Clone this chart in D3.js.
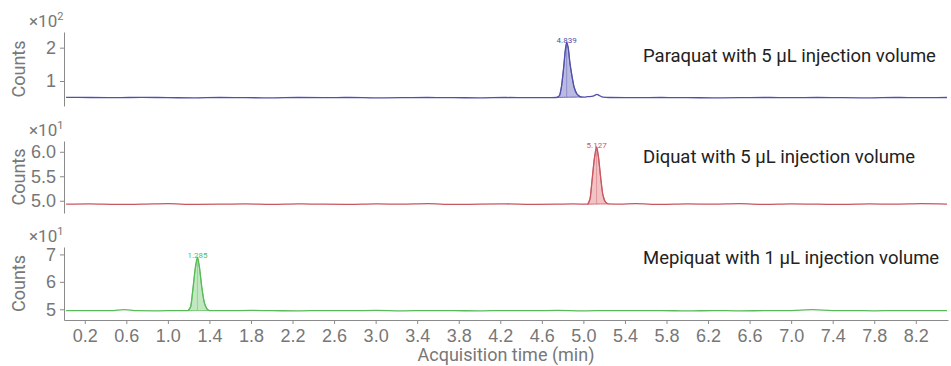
<!DOCTYPE html>
<html>
<head>
<meta charset="utf-8">
<script src="https://cdn.jsdelivr.net/npm/d3@7"></script>
<style>
  body { margin: 0; background: #fff; }
  svg { font-family: Roboto, "Noto Sans", sans-serif; }
  .axis path, .axis line { stroke: #8a8a8a; }
  .axis text { fill: #777; }
</style>
</head>
<body>
<div id="chart"></div>
<script>
// x axis tick labels (min)
var xTicks = [0.2, 0.6, 1.0, 1.4, 1.8, 2.2, 2.6, 3.0, 3.4, 3.8, 4.2, 4.6, 5.0, 5.4, 5.8, 6.2, 6.6, 7.0, 7.4, 7.8, 8.2];

// Paraquat trace, [time, counts x10^2]
var paraquat = [
  [0.02,0.51],[0.25,0.505],[0.5,0.50],[0.75,0.51],[1.0,0.50],[1.25,0.495],[1.5,0.505],[1.75,0.50],
  [2.0,0.495],[2.25,0.505],[2.5,0.50],[2.75,0.505],[3.0,0.495],[3.25,0.50],[3.5,0.505],[3.75,0.50],
  [4.0,0.495],[4.25,0.505],[4.5,0.50],[4.65,0.50],[4.74,0.505],[4.77,0.56],[4.79,0.85],[4.81,1.40],
  [4.825,1.90],[4.839,2.16],[4.855,1.98],[4.87,1.55],[4.89,1.15],[4.91,0.82],[4.94,0.60],[4.98,0.52],
  [5.01,0.515],[5.04,0.53],[5.08,0.54],[5.11,0.57],[5.13,0.60],[5.15,0.57],[5.19,0.515],[5.25,0.505],
  [5.5,0.50],[5.75,0.505],[6.0,0.50],[6.25,0.495],[6.5,0.50],[6.75,0.505],[7.0,0.50],[7.25,0.505],
  [7.5,0.50],[7.75,0.495],[8.0,0.505],[8.25,0.50],[8.5,0.505]
];
// Diquat trace, [time, counts x10^1]
var diquat = [
  [0.02,4.93],[0.25,4.935],[0.5,4.925],[0.75,4.93],[1.0,4.94],[1.25,4.925],[1.5,4.93],[1.75,4.935],
  [2.0,4.925],[2.25,4.935],[2.5,4.93],[2.75,4.925],[3.0,4.935],[3.25,4.93],[3.5,4.94],[3.75,4.925],
  [4.0,4.93],[4.25,4.935],[4.5,4.925],[4.75,4.93],[4.9,4.935],[5.04,4.93],[5.065,5.05],[5.085,5.45],
  [5.105,5.85],[5.127,6.10],[5.145,5.90],[5.165,5.50],[5.185,5.15],[5.21,4.98],[5.24,4.935],[5.35,4.93],
  [5.5,4.94],[5.75,4.925],[6.0,4.935],[6.25,4.93],[6.5,4.94],[6.75,4.925],[7.0,4.935],[7.25,4.93],
  [7.5,4.925],[7.75,4.935],[8.0,4.93],[8.25,4.94],[8.5,4.93]
];
// Mepiquat trace, [time, counts x10^1]
var mepiquat = [
  [0.02,4.95],[0.25,4.955],[0.45,4.95],[0.58,4.99],[0.7,4.95],[0.9,4.945],[1.1,4.955],[1.19,4.95],
  [1.22,5.10],[1.24,5.70],[1.262,6.45],[1.285,6.90],[1.305,6.50],[1.325,5.85],[1.35,5.25],[1.375,5.02],
  [1.40,4.955],[1.55,4.95],[1.8,4.96],[2.0,4.95],[2.25,4.945],[2.5,4.955],[2.75,4.95],[3.0,4.96],
  [3.25,4.945],[3.5,4.955],[3.75,4.95],[4.0,4.945],[4.25,4.955],[4.5,4.95],[4.75,4.96],[5.0,4.945],
  [5.25,4.955],[5.5,4.95],[5.75,4.955],[6.0,4.94],[6.25,4.955],[6.5,4.945],[6.75,4.95],[7.0,4.955],
  [7.21,4.985],[7.4,4.95],[7.6,4.955],[7.8,4.945],[8.0,4.955],[8.25,4.95],[8.5,4.955]
];

// panels: name, data, peak info, y ticks
var panels = [
  { data: paraquat, label: "Paraquat with 5 µL injection volume", rt: "4.839", peak: [4.74, 4.98],
    ticks: [1, 2], fmt: "d", exp: "2", domain: [0.25, 2.47],
    line: "#5050a8", fill: "#a9a9dc", top: 32, bottom: 106, textY: 62 },
  { data: diquat, label: "Diquat with 5 µL injection volume", rt: "5.127", peak: [5.04, 5.24],
    ticks: [5.0, 5.5, 6.0], fmt: ".1f", exp: "1", domain: [4.75, 6.22],
    line: "#c9565f", fill: "#eeb4b6", top: 141, bottom: 213, textY: 163 },
  { data: mepiquat, label: "Mepiquat with 1 µL injection volume", rt: "1.285", peak: [1.19, 1.40],
    ticks: [5, 6, 7], fmt: "d", exp: "1", domain: [4.61, 7.27],
    line: "#58bb58", fill: "#b2e2b2", top: 247, bottom: 320, textY: 264 }
];

var W = 951, H = 366;
var svg = d3.select("#chart").append("svg")
  .attr("width", W).attr("height", H);

var x = d3.scaleLinear().domain([0, 8.51]).range([64, 948]);

panels.forEach(function(p) {
  var y = d3.scaleLinear().domain(p.domain).range([p.bottom, p.top]);

  // y axis
  var ya = svg.append("g")
    .attr("class", "axis")
    .attr("transform", "translate(64,0)")
    .call(d3.axisLeft(y).tickValues(p.ticks).tickFormat(d3.format(p.fmt)).tickSize(4).tickSizeOuter(0).tickPadding(4));
  ya.selectAll("text").style("font-size", "18px");

  // exponent label
  var ex = svg.append("text")
    .attr("x", 29).attr("y", p.top - 5)
    .style("font-size", "17px").style("fill", "#777");
  ex.append("tspan").text("×10");
  ex.append("tspan").attr("dy", -7).style("font-size", "11px").text(p.exp);

  // Counts label
  svg.append("text")
    .attr("transform", "translate(25," + ((p.top + p.bottom) / 2) + ") rotate(-90)")
    .attr("text-anchor", "middle")
    .style("font-size", "18px").style("fill", "#777")
    .text("Counts");

  // integrated peak area
  var inPeak = p.data.filter(d => d[0] >= p.peak[0] && d[0] <= p.peak[1]);
  var b0 = inPeak[0], b1 = inPeak[inPeak.length - 1];
  var baseAt = t => b0[1] + (b1[1] - b0[1]) * (t - b0[0]) / (b1[0] - b0[0]);
  var area = d3.area()
    .x(d => x(d[0]))
    .y0(d => y(baseAt(d[0])))
    .y1(d => y(d[1]));
  svg.append("path")
    .datum(inPeak)
    .attr("d", area)
    .style("fill", p.fill).style("fill-opacity", 0.8)
    .style("stroke", p.line).style("stroke-width", 0.8);

  // apex drop line
  var apexPt = inPeak.reduce((a, b) => b[1] > a[1] ? b : a);
  svg.append("line")
    .attr("x1", x(apexPt[0])).attr("x2", x(apexPt[0]))
    .attr("y1", y(apexPt[1])).attr("y2", y(baseAt(apexPt[0])))
    .style("stroke", p.line).style("stroke-opacity", 0.5).style("stroke-width", 0.8);

  // trace
  var line = d3.line()
    .x(d => x(d[0]))
    .y(d => y(d[1]))
    .curve(d3.curveMonotoneX);
  svg.append("path")
    .datum(p.data)
    .attr("d", line)
    .style("fill", "none")
    .style("stroke", p.line)
    .style("stroke-width", 1.3);

  // retention time label
  svg.append("text")
    .attr("x", x(apexPt[0])).attr("y", y(apexPt[1]) + 1)
    .attr("text-anchor", "middle")
    .style("font-size", "8px").style("fill", p.line)
    .text(p.rt);

  // compound label
  svg.append("text")
    .attr("x", 643).attr("y", p.textY)
    .style("font-size", "18.5px").style("fill", "#222")
    .text(p.label);
});

// x axis
var xa = svg.append("g")
  .attr("class", "axis")
  .attr("transform", "translate(0,320)")
  .call(d3.axisBottom(x).tickValues(xTicks).tickFormat(d3.format(".1f")).tickSize(4).tickSizeOuter(0).tickPadding(5));
xa.selectAll("text").style("font-size", "18px");

svg.append("text")
  .attr("x", 506).attr("y", 361)
  .attr("text-anchor", "middle")
  .style("font-size", "18px").style("fill", "#777")
  .text("Acquisition time (min)");
</script>
</body>
</html>
